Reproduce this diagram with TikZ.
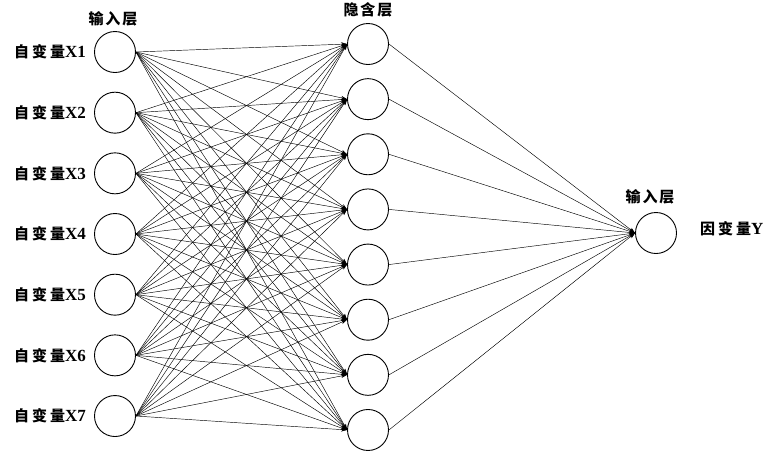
\documentclass[tikz,border=0pt]{standalone}
\usepackage{fontspec}
\setmainfont{Liberation Serif}
\newfontfamily\cjk{Noto Sans CJK SC}
\usetikzlibrary{arrows.meta}
\begin{document}
\begin{tikzpicture}[x=1pt,y=-1pt,
  neuron/.style={circle,draw,line width=0.9pt,minimum size=41pt,inner sep=0pt},
  conn/.style={line width=0.45pt,-{Stealth[length=6pt,width=4pt]}},
  lbl/.style={font=\fontsize{15}{17}\selectfont\bfseries},
  ]
\useasboundingbox (0,0) rectangle (777,456);
% input layer
\foreach \i in {1,...,7} {
  \node[lbl,anchor=east,inner sep=0pt] (lab\i) at (86,{52+(\i-1)*60.67}) {{\cjk 自\hspace{3pt}变\hspace{3pt}量}{\fontsize{17}{17}\selectfont X\i}};
  \node[neuron] (in\i) at (115,{52+(\i-1)*60.67}) {};
}
% hidden layer
\foreach \j in {1,...,8} {
  \node[neuron] (h\j) at (368,{44+(\j-1)*55.14}) {};
}
% output
\node[neuron] (out) at (656,233) {};
% headers
\node[lbl] (t1) at (113,19) {\cjk 输\hspace{2pt}入\hspace{2pt}层};
\node[lbl] (t2) at (368,10) {\cjk 隐\hspace{2pt}含\hspace{2pt}层};
\node[lbl] (t3) at (650,197) {\cjk 输\hspace{2pt}入\hspace{2pt}层};
\node[lbl,anchor=west,inner sep=0pt] (ylab) at (700,229) {{\cjk 因\hspace{3pt}变\hspace{3pt}量}{\fontsize{17}{17}\selectfont Y}};
% connections
\foreach \i in {1,...,7} {
  \foreach \j in {1,...,8} {
    \draw[conn] (in\i.east) -- (h\j.west);
  }
}
\foreach \j in {1,...,8} {
  \draw[conn] (h\j.east) -- (out.west);
}
\end{tikzpicture}
\end{document}
